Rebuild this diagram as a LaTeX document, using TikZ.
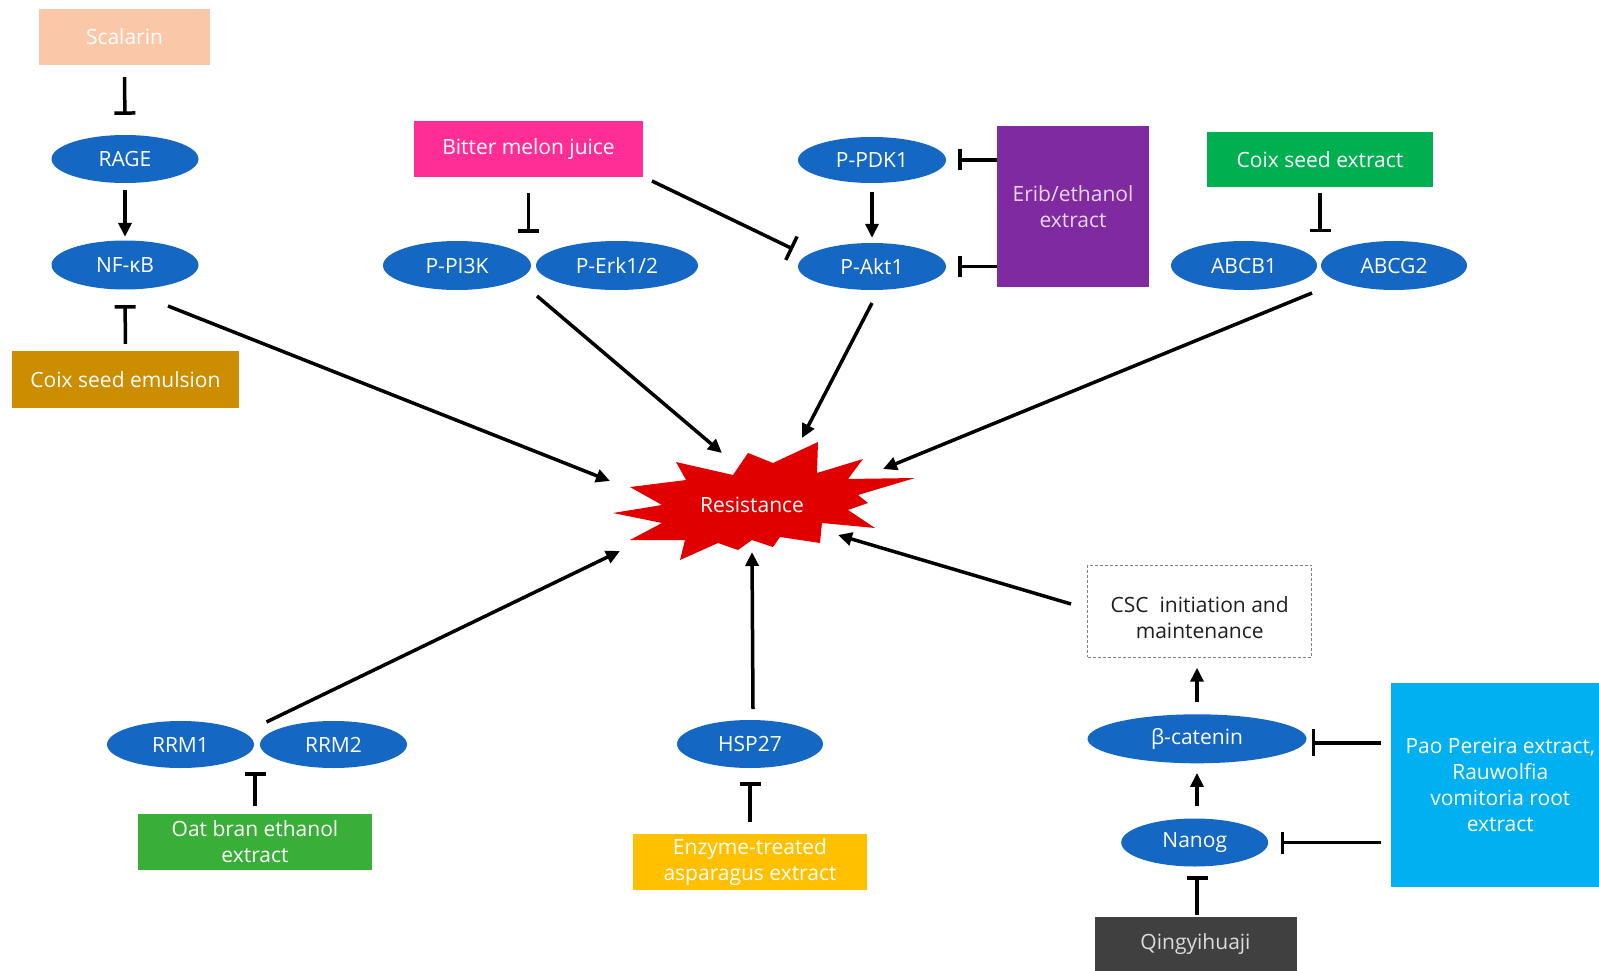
\documentclass[tikz,border=0pt]{standalone}
\usepackage{fontspec}
\setmainfont{Open Sans}
\usetikzlibrary{shapes.geometric,arrows.meta,calc}
\definecolor{elblue}{RGB}{20,104,196}
\definecolor{cScal}{RGB}{250,200,168}
\definecolor{cCoixEm}{RGB}{204,142,0}
\definecolor{cBitter}{RGB}{255,45,150}
\definecolor{cErib}{RGB}{127,42,160}
\definecolor{cCoixEx}{RGB}{0,176,80}
\definecolor{cOat}{RGB}{57,174,57}
\definecolor{cEnz}{RGB}{255,192,0}
\definecolor{cQing}{RGB}{64,64,64}
\definecolor{cPao}{RGB}{0,176,240}
\definecolor{cRes}{RGB}{224,0,0}
\definecolor{cLav}{RGB}{232,214,242}
\definecolor{cDark}{RGB}{30,30,30}
\definecolor{cQtext}{RGB}{220,220,220}
\tikzset{
  basetext/.style={font=\fontsize{21}{26}\selectfont, inner sep=0pt, align=center},
  prot/.style={basetext, shape=ellipse, fill=elblue, text=white, minimum width=147pt, minimum height=48pt},
  pbox/.style={basetext, shape=rectangle, text=white},
  arrline/.style={line width=3.5pt, -{Triangle[length=14pt,width=13pt]}},
  inhline/.style={line width=3.5pt, -{Bar[width=21pt]}},
}
\begin{document}
\begin{tikzpicture}[x=1pt,y=-1pt]
\useasboundingbox (0,0) rectangle (1599,971);

% left column
\node[pbox, fill=cScal, minimum width=171pt, minimum height=56pt] (scal) at (124.5,37) {Scalarin};
\node[prot] (rage) at (125,159) {RAGE};
\node[prot, minimum height=49pt] (nfkb) at (125,265) {NF-κB};
\node[pbox, fill=cCoixEm, minimum width=227pt, minimum height=57pt] (coixem) at (125.5,379.5) {Coix seed emulsion};

% PI3K / Erk
\node[pbox, fill=cBitter, minimum width=229pt, minimum height=56pt] (bitter) at (528.5,149) {Bitter melon juice};
\node[prot, minimum width=148pt, minimum height=49pt] (pi3k) at (457,265.5) {P-PI3K};
\node[prot, minimum width=162pt, minimum height=49pt] (erk) at (617,265.5) {P-Erk1/2};

% PDK1 / Akt1
\node[prot, minimum width=148pt, minimum height=46pt] (pdk1) at (872,160) {P-PDK1};
\node[prot, minimum width=148pt, minimum height=47pt] (akt1) at (872,266.5) {P-Akt1};
\node[pbox, fill=cErib, text=cLav, minimum width=152pt, minimum height=161pt] (erib) at (1073,206.5) {Erib/ethanol\\extract};

% ABC
\node[pbox, fill=cCoixEx, minimum width=226pt, minimum height=55pt] (coixex) at (1320,159.5) {Coix seed extract};
\node[prot, minimum width=146pt, minimum height=49pt] (abcb1) at (1244,265.5) {ABCB1};
\node[prot, minimum width=146pt, minimum height=49pt] (abcg2) at (1394,265.5) {ABCG2};

% Resistance star
\fill[cRes] (613,513) -- (662,505) -- (630,487) -- (686,480) -- (676,462) -- (733,475)
  -- (748,453) -- (773,463) -- (818,442) -- (817,473) -- (863,459) -- (848,479)
  -- (915,478) -- (858,495) -- (868,503) -- (848,510) -- (875,528) -- (822,523)
  -- (820,543) -- (780,537) -- (773,547) -- (752,540) -- (738,550) -- (718,543)
  -- (680,560) -- (685,540) -- (630,540) -- (662,523) -- cycle;
\node[basetext, text=white] (res) at (752,505) {Resistance};

% bottom
\node[prot, minimum width=147pt, minimum height=47pt] (rrm1) at (180.5,744.5) {RRM1};
\node[prot, minimum width=147pt, minimum height=47pt] (rrm2) at (333.5,744.5) {RRM2};
\node[pbox, fill=cOat, minimum width=234pt, minimum height=56pt] (oat) at (255,842) {Oat bran ethanol\\extract};
\node[prot, minimum width=146pt, minimum height=48pt] (hsp) at (750,744) {HSP27};
\node[pbox, fill=cEnz, minimum width=234pt, minimum height=56pt] (enz) at (750,862) {Enzyme-treated\\asparagus extract};
\node[pbox, draw=gray, line width=1pt, dash pattern=on 3pt off 2pt, text=cDark, minimum width=224pt, minimum height=92pt] (csc) at (1199.7,611.2) {\rule{0pt}{28pt}CSC\ \ initiation and\\maintenance};
\node[prot, minimum width=219pt, minimum height=49pt] (bcat) at (1197,738.8) {β-catenin};
\node[prot, minimum width=147pt, minimum height=48pt] (nanog) at (1194.7,842.5) {Nanog};
\node[pbox, fill=cQing, text=cQtext, minimum width=202pt, minimum height=54pt] (qing) at (1195.5,944) {Qingyihuaji};
\node[pbox, fill=cPao, minimum width=219.3pt, minimum height=204.6pt] (pao) at (1500.3,785) {Pao Pereira extract,\\Rauwolfia\\vomitoria root\\extract};

% pair coordinates
\coordinate (pipair) at ($(pi3k.east)!0.5!(erk.west)$);
\coordinate (abpair) at ($(abcb1.east)!0.5!(abcg2.west)$);
\coordinate (rrmpair) at ($(rrm1.east)!0.5!(rrm2.west)$);

% connectors, left column
\draw[inhline, shorten <=12pt, shorten >=20pt] (scal.south) -- (rage.north);
\draw[arrline, shorten <=7pt, shorten >=3.5pt] (rage) -- (nfkb);
\draw[inhline, shorten <=7pt, shorten >=15.5pt] (coixem) -- (nfkb);

% PI3K / Akt
\draw[inhline, shorten <=16pt, shorten >=33pt] (bitter.south) -- (bitter.south |- pipair);
\draw[inhline, -{Bar[width=26pt]}] ([shift={(123.5,32)}]bitter.center) -- ([shift={(-79,-17.5)}]akt1.center);
\draw[arrline, shorten <=9pt, shorten >=5pt] (pdk1) -- (akt1);
\draw[inhline, shorten >=12pt] (erib.west |- pdk1) -- (pdk1.east);
\draw[inhline, shorten >=12pt] (erib.west |- akt1) -- (akt1.east);
\draw[inhline, shorten <=6pt, shorten >=33.5pt] (coixex.south) -- (coixex.south |- abpair);

% to Resistance
\draw[arrline] ([shift={(43,41)}]nfkb.center) -- ([shift={(-142,-24)}]res.center);
\draw[arrline] ([shift={(80,30.5)}]pi3k.center) -- ([shift={(-30,-52)}]res.center);
\draw[arrline] ([shift={(0,36.5)}]akt1.center) -- ([shift={(50,-67)}]res.center);
\draw[arrline] ([shift={(-82,27.5)}]abcg2.center) -- ([shift={(131,-36)}]res.center);
\draw[arrline] ([shift={(-67,-22.5)}]rrm2.center) -- ([shift={(-132,46)}]res.center);
\draw[arrline] ([shift={(3,-35)}]hsp.center) -- ([shift={(0,47)}]res.center);
\draw[arrline] ([shift={(-128.7,-7.2)}]csc.center) -- ([shift={(86,30)}]res.center);

% bottom connectors
\draw[inhline, shorten <=8pt, shorten >=27.5pt] (oat.north) -- (oat.north |- rrmpair);
\draw[inhline, shorten <=12pt, shorten >=14pt] (enz) -- (hsp);
\draw[arrline, shorten <=12.5pt, shorten >=9.4pt] (bcat.south |- nanog.north) -- (bcat.south);
\draw[arrline, shorten <=12.6pt, shorten >=10pt] (bcat.north) -- (bcat.north |- csc.south);
\draw[inhline, shorten <=2pt, shorten >=9.5pt] (bcat.south |- qing.north) -- (bcat.south |- nanog.south);
\draw[inhline, -{Bar[width=27pt]}, shorten <=9pt, shorten >=5pt] ([yshift=-4pt]pao.west |- bcat) -- ([yshift=-4pt]bcat.east);
\draw[inhline, -{Bar[width=22pt]}, shorten <=9pt, shorten >=12.5pt] (pao.west |- nanog) -- (nanog.east);
\end{tikzpicture}
\end{document}
